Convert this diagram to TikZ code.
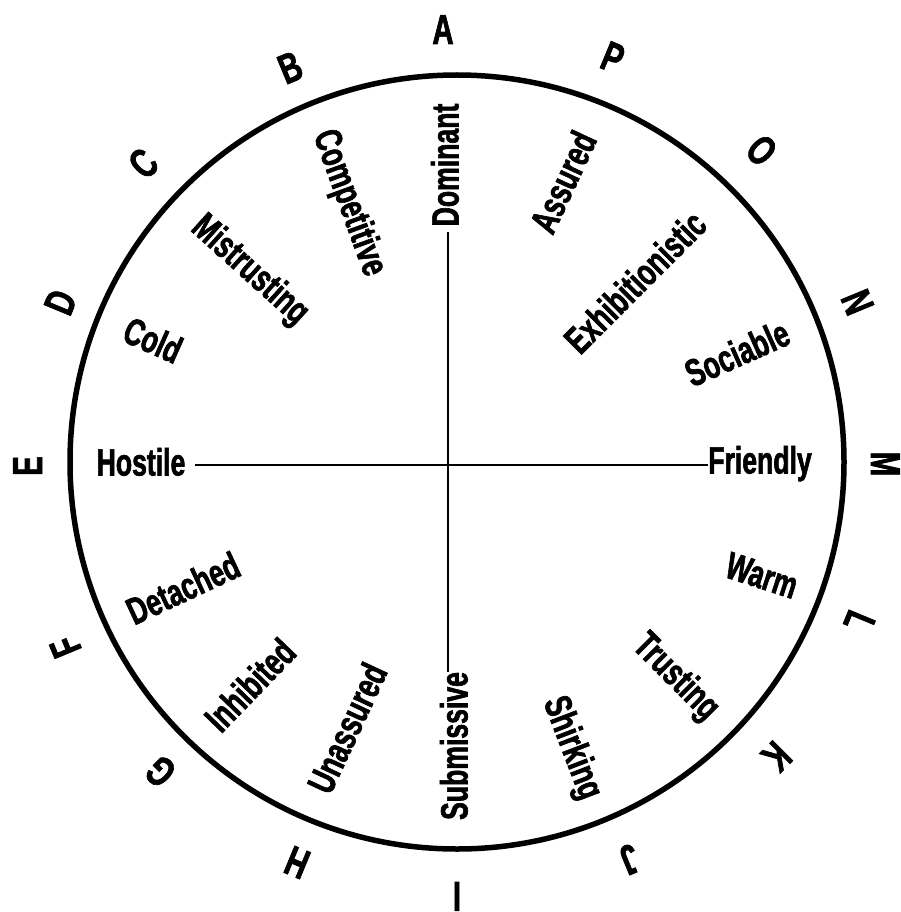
\documentclass[tikz,border=0pt]{standalone}
\usepackage{fontspec}
\newfontfamily\labfont[FakeStretch=0.70,FakeBold=1.6]{Liberation Sans}
\tikzset{
  lab/.style={font={\labfont\bfseries\fontsize{38pt}{38pt}\selectfont}, inner sep=0pt, text height=27pt, text depth=0pt},
  outer/.style={font={\labfont\bfseries\fontsize{42pt}{42pt}\selectfont}, inner sep=0pt, text height=30pt, text depth=0pt},
  ring/.style={line width=5.5pt},
  axis/.style={line width=2.5pt}
}
\begin{document}
\begin{tikzpicture}[x=1pt,y=-1pt]
\fill[white] (0,0) rectangle (901,912);
\useasboundingbox (0,0) rectangle (901,912);
\coordinate (o) at (457,462);
\coordinate (c) at (448,465);
\draw[ring] (o) circle[radius=387pt];
% inner labels
\node[lab, rotate=90]  (dom) at (445,165) {Dominant};
\node[lab, rotate=65]  (ass) at (563,182) {Assured};
\node[lab, rotate=45]  (exh) at (635,282) {Exhibitionistic};
\node[lab, rotate=24]  (soc) at (737,353) {Sociable};
\node[lab]             (fri) at (760,460) {Friendly};
\node[lab, rotate=-18] (war) at (762,575) {Warm};
\node[lab, rotate=-45] (tru) at (678,675) {Trusting};
\node[lab, rotate=-69] (shi) at (575,747) {Shirking};
\node[lab, rotate=90]  (sub) at (454,746) {Submissive};
\node[lab, rotate=65]  (una) at (347,728) {Unassured};
\node[lab, rotate=46]  (inh) at (250,685) {Inhibited};
\node[lab, rotate=25]  (det) at (183,588) {Detached};
\node[lab]             (hos) at (141,462) {Hostile};
\node[lab, rotate=-24] (col) at (153,340) {Cold};
\node[lab, rotate=-42] (mis) at (252,268) {Mistrusting};
\node[lab, rotate=-70] (com) at (352,202) {Competitive};
% axes
\draw[axis, shorten <=5pt] (c |- dom.west) -- (c |- sub.east);
\draw[axis, shorten <=9pt] (hos.east |- c) -- (fri.west |- c);
% outer letters
\node[outer]                 (la) at (443,29)  {A};
\node[outer, rotate=-22.5]   (lp) at (613,57)  {P};
\node[outer, rotate=-45]     (lo) at (762,150) {O};
\node[outer, rotate=-67.5]   (ln) at (858,302) {N};
\node[outer, rotate=-90]     (lm) at (886,464) {M};
\node[outer, rotate=-112.5]  (ll) at (860,622) {L};
\node[outer, rotate=-135]    (lk) at (777,757) {K};
\node[outer, rotate=-157.5]  (lj) at (630,860) {J};
\node[outer, rotate=180]     (li) at (457,897) {I};
\node[outer, rotate=157.5]   (lh) at (297,863) {H};
\node[outer, rotate=135]     (lg) at (160,772) {G};
\node[outer, rotate=112.5]   (lf) at (65,647)  {F};
\node[outer, rotate=90]      (le) at (27,466)  {E};
\node[outer, rotate=67.5]    (ld) at (60,302)  {D};
\node[outer, rotate=45]      (lc) at (143,163) {C};
\node[outer, rotate=22.5]    (lb) at (290,67)  {B};
\end{tikzpicture}
\end{document}
